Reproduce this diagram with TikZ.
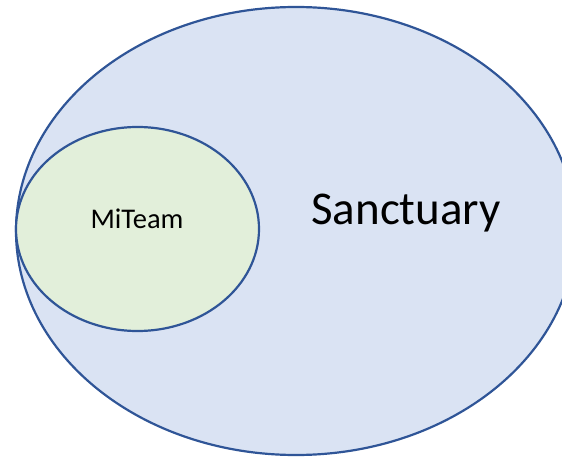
\documentclass[tikz,border=0pt]{standalone}
\usepackage{fontspec}
\setmainfont{Carlito}
\usepackage{tikz}
\usetikzlibrary{shapes.geometric, positioning}
\definecolor{setblue}{RGB}{218,227,243}
\definecolor{setgreen}{RGB}{226,239,218}
\definecolor{edgeblue}{RGB}{47,85,151}

\begin{document}
\begin{tikzpicture}[
    x=1pt, y=-1pt,
    setshape/.style={ellipse, draw=edgeblue, line width=2.2pt, inner sep=0pt}
]
    \useasboundingbox (0,0) rectangle (562,457);
    \begin{scope}
    \clip (0,0) rectangle (562,457);
    \node[setshape, fill=setblue, minimum width=560pt, minimum height=448pt] (sanctuary) at (296,231) {};
    \end{scope}
    \node[setshape, fill=setgreen, minimum width=243pt, minimum height=204pt] (miteam) at (137.5,229) {};

    \node[font=\fontsize{28.5}{32}\selectfont] (miteamlabel) at (137,219) {MiTeam};
    \node[font=\fontsize{47}{52}\selectfont] (sanctlabel) at (406,213) {Sanctuary};
\end{tikzpicture}
\end{document}
